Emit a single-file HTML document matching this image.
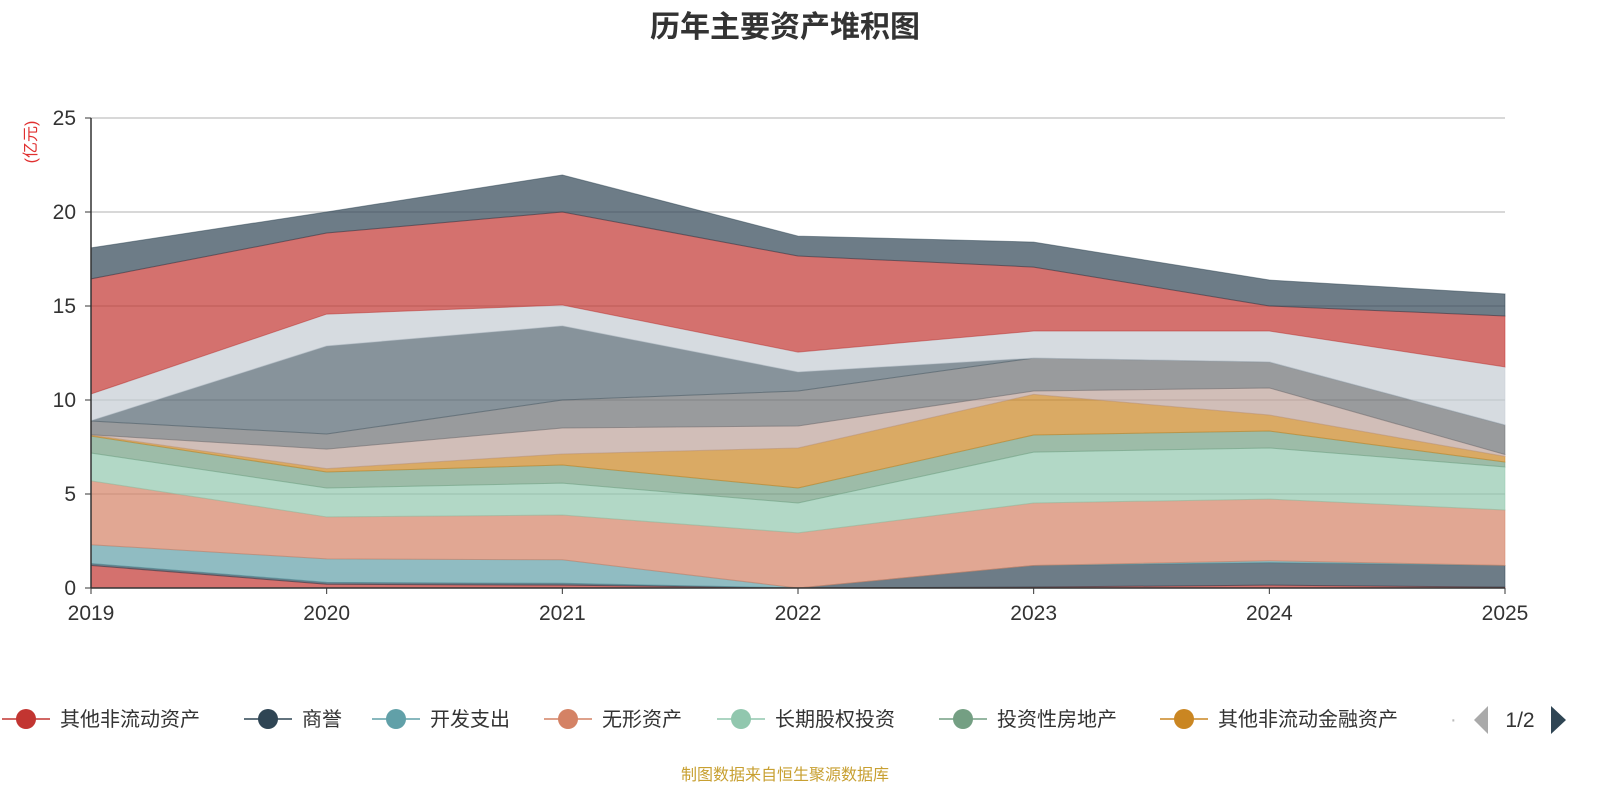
<!DOCTYPE html>
<html><head><meta charset="utf-8">
<style>
body{margin:0;background:#fff;}
svg{display:block;font-family:"Liberation Sans","Noto Sans CJK SC",sans-serif;}
</style></head>
<body>
<svg id="chart" width="1600" height="800" viewBox="0 0 1600 800">
<text x="785" y="37" text-anchor="middle" font-size="30" font-weight="bold" fill="#333">历年主要资产堆积图</text>
<text transform="translate(36,142) rotate(-90)" text-anchor="middle" font-size="16" fill="#e03030">(亿元)</text>
<g id="grid"></g>
<g id="areas"></g>
<g id="axes"></g>
<g id="legend"></g>
<text x="785" y="780" text-anchor="middle" font-size="16" fill="#c8a032">制图数据来自恒生聚源数据库</text>
</svg>
<script>
const years = ['2019','2020','2021','2022','2023','2024','2025'];
const yTicks = [0,5,10,15,20,25];
const seriesNames = ['其他非流动资产','商誉','开发支出','无形资产','长期股权投资','投资性房地产','其他非流动金融资产','s8','s9','s10','s11','s12','s13'];
const colors = ['#c23531','#2f4554','#61a0a8','#d48265','#91c7ae','#749f83','#ca8622','#bda29a','#6e7074','#546570','#c4ccd3','#c23531','#2f4554'];
// cumulative tops
const cum1 = [1.2,0.2,0.15,0,0.05,0.15,0.05];
const cum2 = [1.3,0.3,0.25,0,1.2,1.35,1.2];
const cum3 = [2.3,1.55,1.5,0,1.2,1.45,1.2];
const cum4 = [5.7,3.78,3.88,2.93,4.52,4.73,4.15];
const cum5 = [7.18,5.32,5.58,4.52,7.23,7.45,6.44];
const cum6 = [8.08,6.17,6.54,5.32,8.14,8.35,6.7];
const cum7 = [8.14,6.35,7.13,7.45,10.3,9.2,7.0];
const cum8 = [8.15,7.39,8.51,8.62,10.48,10.64,7.1];
const cum9 = [8.88,8.19,10.0,10.48,12.23,12.02,8.67];
const cum10 = [8.9,12.87,13.94,11.49,12.23,12.02,8.67];
const cum11 = [10.32,14.57,15.05,12.55,13.67,13.67,11.76];
const cum12 = [16.44,18.88,20.0,17.66,17.07,15.0,14.47];
const cum13 = [18.09,20.0,21.97,18.72,18.4,16.38,15.64];
const stacks = [cum1,cum2,cum3,cum4,cum5,cum6,cum7,cum8,cum9,cum10,cum11,cum12,cum13];
const NS='http://www.w3.org/2000/svg';
const X0=91,X1=1505,Y0=588,Y1=118;
const xS=i=>X0+(X1-X0)*i/(years.length-1);
const yS=v=>Y0-(Y0-Y1)*v/25;
function mk(t,a,p){const e=document.createElementNS(NS,t);for(const k in a)e.setAttribute(k,a[k]);p.appendChild(e);return e;}
const grid=document.getElementById('grid'),areas=document.getElementById('areas'),axes=document.getElementById('axes'),legend=document.getElementById('legend');
yTicks.forEach(v=>{
  if(v>0){const l=mk('line',{x1:X0,x2:X1,y1:yS(v),y2:yS(v),stroke:'#ccc','stroke-width':1.5},grid);
  
  }
  const t=mk('text',{x:X0-15,y:yS(v)+7,'text-anchor':'end','font-size':21,fill:'#333'},axes);t.textContent=v;
  
  
  const tk=mk('line',{x1:X0-6,x2:X0,y1:yS(v),y2:yS(v),stroke:'#333'},axes);
});
stacks.forEach((top,s)=>{
  const bot=s?stacks[s-1]:years.map(()=>0);
  let d='M'+top.map((v,i)=>xS(i)+','+yS(v)).join('L');
  for(let i=years.length-1;i>=0;i--)d+='L'+xS(i)+','+yS(bot[i]);
  const p=mk('path',{d:d+'Z',fill:colors[s],'fill-opacity':0.7,stroke:colors[s],'stroke-opacity':0.5,'stroke-width':1},areas);
  
  
});
mk('line',{x1:X0,x2:X0,y1:Y1,y2:Y0,stroke:'#333','stroke-width':1.5},axes);
mk('line',{x1:X0,x2:X1,y1:Y0,y2:Y0,stroke:'#333','stroke-width':1.5},axes);
years.forEach((y,i)=>{
  mk('line',{x1:xS(i),x2:xS(i),y1:Y0,y2:Y0+6,stroke:'#333'},axes);
  const t=mk('text',{x:xS(i),y:620,'text-anchor':'middle','font-size':21,fill:'#333'},axes);t.textContent=y;
  
  
});
const legX=[26,268,396,568,741,963,1184];
for(let i=0;i<7;i++){
  const g=mk('g',{},legend);
  
  
  mk('line',{x1:legX[i]-24,x2:legX[i]+24,y1:719,y2:719,stroke:colors[i],'stroke-width':1.5},g);
  mk('circle',{cx:legX[i],cy:719,r:10,fill:colors[i]},g);
  const t=mk('text',{x:legX[i]+34,y:726,'font-size':20,fill:'#333'},g);t.textContent=seriesNames[i];
}
const dot=mk('text',{x:1450,y:726,'font-size':20,fill:'#bbb'},legend);dot.textContent='·';
const pl=mk('path',{d:'M1488,706L1488,734L1474,720Z',fill:'#aaa'},legend);


const pt=mk('text',{x:1520,y:727,'text-anchor':'middle','font-size':21,fill:'#333'},legend);pt.textContent='1/2';
const pr=mk('path',{d:'M1551,706L1551,734L1566,720Z',fill:'#2f4554'},legend);


</script>
</body></html>
